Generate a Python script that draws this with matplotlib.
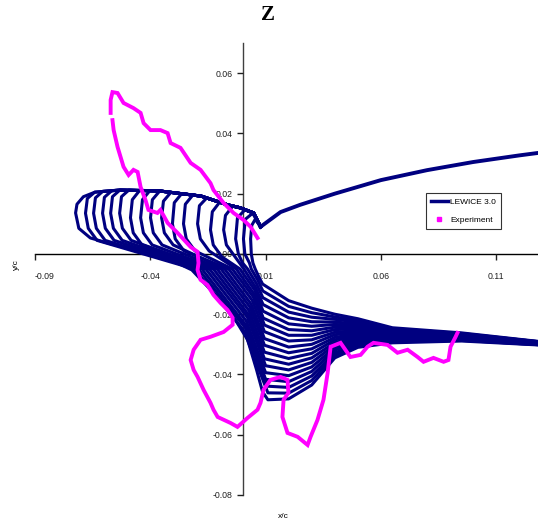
"""
plot.py
=======
LEWICE 3.0 multi-layer ice shape vs experimental tracing ("Z" case).
Saves out.png (538x525 px).
"""

import matplotlib
matplotlib.use("Agg")  # no display
import matplotlib.pyplot as plt
from matplotlib.lines import Line2D

plt.rcParams["font.family"] = ["Liberation Sans", "DejaVu Sans"]

NAVY = "#000080"
MAGENTA = "#ff00ff"

# ── Clean upper surface (shared by every layer) ───────────────────────────────
UPPER_X = [0.0078, 0.0165, 0.025, 0.040, 0.060, 0.080, 0.100, 0.120, 0.128]
UPPER_Y = [0.0090, 0.0139, 0.0163, 0.0200, 0.0245, 0.0278, 0.0305, 0.0327, 0.0335]

# ── Top edge of the horn band, from the junction leftwards ────────────────────
ENV_X = [0.0078, 0.0048, -0.0010, -0.0065, -0.0180, -0.0360, -0.0530, -0.0640]
ENV_Y = [0.0090, 0.0136, 0.0153, 0.0163, 0.0192, 0.0209, 0.0212, 0.0205]

# number of top-edge points each layer follows before its horn (inner -> outer)
N_ENV = [1, 1, 2, 3, 4, 4, 5, 5, 5, 5, 6, 6, 6, 6, 7, 7, 7, 8]

# horn outline of each layer: top, upper-left, tip, lower-left, bottom
HORN_X = [
    [0.0055, 0.0040, 0.0035, 0.0038, 0.0045],
    [0.0044, 0.0012, 0.0004, 0.0010, 0.0030],
    [0.0010, -0.0022, -0.0030, -0.0018, 0.0000],
    [-0.0042, -0.0074, -0.0082, -0.0070, -0.0032],
    [-0.0099, -0.0131, -0.0139, -0.0127, -0.0089],
    [-0.0155, -0.0187, -0.0195, -0.0183, -0.0145],
    [-0.0216, -0.0248, -0.0256, -0.0244, -0.0206],
    [-0.0264, -0.0296, -0.0304, -0.0292, -0.0254],
    [-0.0311, -0.0343, -0.0351, -0.0339, -0.0301],
    [-0.0359, -0.0391, -0.0399, -0.0387, -0.0349],
    [-0.0402, -0.0434, -0.0442, -0.0430, -0.0392],
    [-0.0446, -0.0478, -0.0486, -0.0474, -0.0436],
    [-0.0493, -0.0525, -0.0533, -0.0521, -0.0483],
    [-0.0532, -0.0564, -0.0572, -0.0560, -0.0522],
    [-0.0567, -0.0599, -0.0607, -0.0595, -0.0557],
    [-0.0606, -0.0638, -0.0646, -0.0634, -0.0596],
    [-0.0641, -0.0673, -0.0681, -0.0669, -0.0631],
    [-0.0690, -0.0718, -0.0724, -0.0710, -0.0660],
]
HORN_Y = [
    [0.0115, 0.0095, 0.0050, 0.0000, -0.0030],
    [0.0135, 0.0115, 0.0050, 0.0000, -0.0030],
    [0.0146, 0.0120, 0.0050, 0.0000, -0.0030],
    [0.0159, 0.0128, 0.0080, 0.0030, -0.0010],
    [0.0172, 0.0140, 0.0080, 0.0030, -0.0010],
    [0.0186, 0.0160, 0.0100, 0.0050, 0.0010],
    [0.0195, 0.0165, 0.0100, 0.0050, 0.0010],
    [0.0200, 0.0170, 0.0100, 0.0050, 0.0010],
    [0.0204, 0.0175, 0.0120, 0.0070, 0.0030],
    [0.0209, 0.0180, 0.0120, 0.0070, 0.0030],
    [0.0210, 0.0180, 0.0120, 0.0070, 0.0030],
    [0.0211, 0.0180, 0.0120, 0.0070, 0.0030],
    [0.0212, 0.0190, 0.0135, 0.0085, 0.0045],
    [0.0212, 0.0190, 0.0135, 0.0085, 0.0045],
    [0.0210, 0.0188, 0.0135, 0.0085, 0.0045],
    [0.0208, 0.0186, 0.0135, 0.0085, 0.0045],
    [0.0205, 0.0184, 0.0135, 0.0085, 0.0045],
    [0.0190, 0.0165, 0.0136, 0.0085, 0.0053],
]

# diagonal run from the horn down to the bottom corner of each layer
DIAG_X = [
    [0.0055, 0.0070, 0.0087],
    [0.0038, 0.0066, 0.0088],
    [0.0022, 0.0060, 0.0088],
    [0.0006, 0.0055, 0.0089],
    [-0.0011, 0.0053, 0.0089],
    [-0.0027, 0.0049, 0.0090],
    [-0.0044, 0.0047, 0.0095],
    [-0.0060, 0.0042, 0.0095],
    [-0.0077, 0.0037, 0.0095],
    [-0.0093, 0.0033, 0.0095],
    [-0.0110, 0.0028, 0.0095],
    [-0.0126, 0.0023, 0.0095],
    [-0.0143, 0.0021, 0.0100],
    [-0.0159, 0.0016, 0.0100],
    [-0.0176, 0.0011, 0.0100],
    [-0.0192, 0.0012, 0.0110],
    [-0.0208, 0.0007, 0.0110],
    [-0.057, -0.044, -0.033, -0.022, -0.0126, -0.0039, 0.0022, 0.0061, 0.0087, 0.011],
]
DIAG_Y = [
    [-0.0050, -0.0075, -0.0100],
    [-0.0050, -0.0087, -0.0123],
    [-0.0050, -0.0098, -0.0145],
    [-0.0050, -0.0109, -0.0168],
    [-0.0050, -0.0120, -0.0190],
    [-0.0050, -0.0132, -0.0213],
    [-0.0050, -0.0143, -0.0236],
    [-0.0050, -0.0154, -0.0258],
    [-0.0050, -0.0166, -0.0281],
    [-0.0050, -0.0177, -0.0303],
    [-0.0050, -0.0188, -0.0326],
    [-0.0050, -0.0199, -0.0348],
    [-0.0050, -0.0210, -0.0371],
    [-0.0050, -0.0222, -0.0394],
    [-0.0050, -0.0233, -0.0416],
    [-0.0050, -0.0245, -0.0439],
    [-0.0050, -0.0256, -0.0461],
    [0.0033, 0.0013, -0.0013, -0.0053, -0.0129, -0.0209, -0.0285, -0.0385, -0.0458, -0.0484],
]

# lower-surface run of each layer back to the trailing edge
RUN_X = [0.020, 0.030, 0.040, 0.050, 0.065, 0.095, 0.128]
RUN_Y = [
    [-0.0155, -0.0180, -0.0200, -0.0215, -0.0245, -0.0262, -0.0290],
    [-0.0174, -0.0195, -0.0209, -0.0221, -0.0248, -0.0264, -0.0291],
    [-0.0193, -0.0210, -0.0217, -0.0226, -0.0251, -0.0265, -0.0291],
    [-0.0212, -0.0225, -0.0226, -0.0232, -0.0254, -0.0267, -0.0292],
    [-0.0232, -0.0240, -0.0234, -0.0237, -0.0257, -0.0268, -0.0293],
    [-0.0251, -0.0255, -0.0243, -0.0243, -0.0260, -0.0270, -0.0294],
    [-0.0270, -0.0270, -0.0251, -0.0249, -0.0263, -0.0272, -0.0294],
    [-0.0289, -0.0285, -0.0260, -0.0254, -0.0266, -0.0273, -0.0295],
    [-0.0309, -0.0300, -0.0268, -0.0260, -0.0269, -0.0275, -0.0296],
    [-0.0328, -0.0315, -0.0277, -0.0265, -0.0271, -0.0276, -0.0296],
    [-0.0347, -0.0330, -0.0285, -0.0271, -0.0274, -0.0278, -0.0297],
    [-0.0366, -0.0345, -0.0294, -0.0276, -0.0277, -0.0279, -0.0298],
    [-0.0385, -0.0360, -0.0302, -0.0282, -0.0280, -0.0281, -0.0298],
    [-0.0404, -0.0375, -0.0311, -0.0288, -0.0283, -0.0283, -0.0299],
    [-0.0424, -0.0390, -0.0319, -0.0293, -0.0286, -0.0284, -0.0300],
    [-0.0443, -0.0405, -0.0328, -0.0299, -0.0289, -0.0286, -0.0301],
    [-0.0462, -0.0420, -0.0336, -0.0304, -0.0292, -0.0287, -0.0301],
    [-0.0481, -0.0435, -0.0345, -0.0310, -0.0295, -0.0289, -0.0302],
]

# ── Experimental ice tracing (two pieces, small gap near the horn tip) ────────
EXP1_X = [0.0065, 0.0035, 0.0004, -0.0039, -0.0082, -0.0126, -0.0139, -0.0182,
          -0.0225, -0.0269, -0.0312, -0.0325, -0.0356, -0.0399, -0.0429, -0.0442,
          -0.0473, -0.0516, -0.0542, -0.0564, -0.0572, -0.0572]
EXP1_Y = [0.0053, 0.0090, 0.0113, 0.0136, 0.0169, 0.0212, 0.0235, 0.0279,
          0.0302, 0.0352, 0.0368, 0.0401, 0.0411, 0.0411, 0.0434, 0.0468,
          0.0484, 0.0501, 0.0534, 0.0537, 0.0511, 0.0468]
EXP2_X = [-0.0564, -0.0559, -0.0542, -0.0516, -0.0494, -0.0473, -0.0455, -0.0442,
          -0.0421, -0.0408, -0.0369, -0.0356, -0.0325, -0.0282, -0.0225, -0.0195,
          -0.0191, -0.0195, -0.0182, -0.0152, -0.0126, -0.0095, -0.0065, -0.0043,
          -0.0043, -0.0082, -0.0139, -0.0182, -0.0212, -0.0225, -0.0212, -0.0195,
          -0.0169, -0.0139, -0.0126, -0.0108, -0.0052, -0.0022, 0.0022, 0.0065,
          0.0078, 0.0091, 0.0121, 0.0165, 0.0195, 0.0199, 0.0178, 0.0173,
          0.0195, 0.0239, 0.0282, 0.0295, 0.0325, 0.0351, 0.0369, 0.0382,
          0.0425, 0.0455, 0.0468, 0.0512, 0.0542, 0.0568, 0.0629, 0.0672,
          0.0716, 0.0759, 0.0785, 0.0828, 0.0872, 0.0893, 0.0902, 0.0924, 0.0932]
EXP2_Y = [0.0444, 0.0411, 0.0355, 0.0289, 0.0262, 0.0279, 0.0272, 0.0222,
          0.0179, 0.0146, 0.0136, 0.0146, 0.0103, 0.0070, 0.0023, 0.0007,
          -0.0030, -0.0053, -0.0086, -0.0103, -0.0136, -0.0163, -0.0186, -0.0212,
          -0.0235, -0.0259, -0.0275, -0.0285, -0.0318, -0.0352, -0.0385, -0.0408,
          -0.0451, -0.0494, -0.0517, -0.0541, -0.0561, -0.0574, -0.0544, -0.0517,
          -0.0494, -0.0451, -0.0418, -0.0408, -0.0418, -0.0461, -0.0484, -0.0541,
          -0.0594, -0.0607, -0.0634, -0.0607, -0.0551, -0.0484, -0.0395, -0.0308,
          -0.0295, -0.0328, -0.0342, -0.0335, -0.0308, -0.0295, -0.0302, -0.0328,
          -0.0318, -0.0342, -0.0358, -0.0345, -0.0358, -0.0352, -0.0308, -0.0275, -0.0262]

X_TICKS = [-0.09, -0.04, 0.01, 0.06, 0.11]
Y_TICKS = [-0.08, -0.06, -0.04, -0.02, 0.00, 0.02, 0.04, 0.06]


def main() -> None:
    fig = plt.figure(figsize=(5.38, 5.25), dpi=100)
    ax = fig.add_axes([35 / 538, 30 / 525, 502.7 / 538, 452 / 525])

    # LEWICE layers, inner to outer
    lw = 2.2
    ax.plot(UPPER_X, UPPER_Y, color=NAVY, lw=lw + 0.6, solid_joinstyle="round")
    for k in range(len(N_ENV)):
        n = N_ENV[k]
        xs = ENV_X[:n] + HORN_X[k] + DIAG_X[k] + RUN_X
        ys = ENV_Y[:n] + HORN_Y[k] + DIAG_Y[k] + RUN_Y[k]
        ax.plot(xs, ys, color=NAVY, lw=lw, solid_joinstyle="round", zorder=2)

    # experiment on top
    for ex, ey in ((EXP1_X, EXP1_Y), (EXP2_X, EXP2_Y)):
        ax.plot(ex, ey, color=MAGENTA, lw=2.8, solid_joinstyle="miter",
                zorder=3)

    ax.set_xlim(-0.09, 0.128)
    ax.set_ylim(-0.08, 0.07)

    # axes cross at the origin
    ax.spines["left"].set_position(("data", 0))
    ax.spines["bottom"].set_position(("data", 0))
    ax.spines["top"].set_visible(False)
    ax.spines["right"].set_visible(False)
    ax.spines["left"].set_color("#404040")
    ax.spines["bottom"].set_color("black")
    for side in ("left", "bottom"):
        ax.spines[side].set_linewidth(1.0)
        ax.spines[side].set_zorder(1)

    ax.set_xticks(X_TICKS)
    ax.set_xticklabels([f"{v:.2f}" for v in X_TICKS])
    ax.set_yticks(Y_TICKS)
    ax.set_yticklabels([f"{v:.2f}" for v in Y_TICKS])
    ax.tick_params(axis="x", direction="out", length=4, width=1, pad=9,
                   labelsize=6.3, colors="#202020")
    ax.tick_params(axis="y", direction="out", length=4, width=1, pad=3,
                   labelsize=6.3, colors="#202020")
    ax.get_xticklabels()[0].set_horizontalalignment("left")

    fig.text(268 / 538, 1 - 15 / 525, "Z", fontsize=15, fontweight="bold",
             family="Liberation Serif", ha="center", va="center")
    fig.text(16 / 538, 1 - 265 / 525, "y/c", fontsize=6, rotation=90,
             ha="center", va="center")
    fig.text(283 / 538, 1 - 517 / 525, "x/c", fontsize=6, ha="center", va="center")

    handles = [
        Line2D([], [], color=NAVY, lw=2.5),
        Line2D([], [], color=MAGENTA, marker="s", ls="none", markersize=3),
    ]
    leg = fig.legend(handles, ["LEWICE 3.0", "Experiment"], loc="upper left",
                     bbox_to_anchor=(426 / 538, 1 - 193 / 525),
                     bbox_transform=fig.transFigure, fontsize=6, frameon=True,
                     fancybox=False, edgecolor="black", borderpad=0.6,
                     handlelength=2.0, handletextpad=0.3, labelspacing=1.2,
                     borderaxespad=0)
    leg.get_frame().set_linewidth(0.8)

    fig.savefig("out.png", dpi=100)
    plt.close(fig)


if __name__ == "__main__":
    main()
